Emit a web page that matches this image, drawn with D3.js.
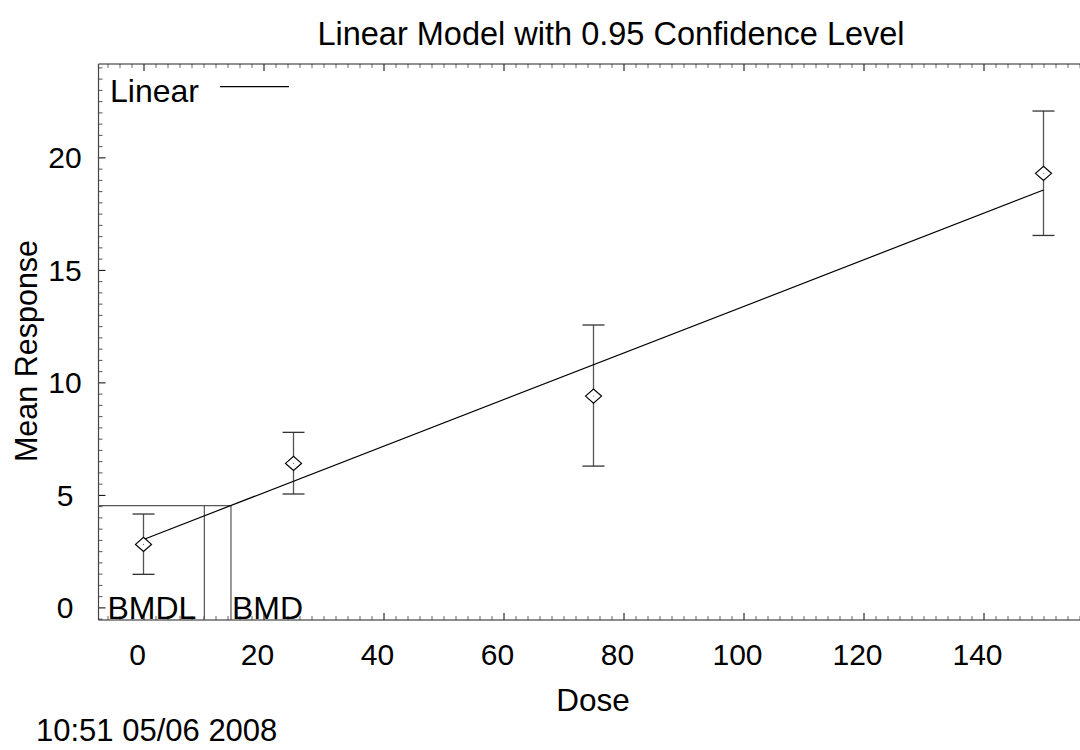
<!DOCTYPE html>
<html><head><meta charset="utf-8">
<script src="https://cdn.jsdelivr.net/npm/d3@7"></script>
<style>
body{margin:0;background:#fff;}
svg{display:block;font-family:"Liberation Sans",Arial,sans-serif;}
</style></head>
<body>
<svg id="chart" width="1080" height="750"></svg>
<script>
// ---- data ----
const doses = [0, 25, 75, 150];
const means = [2.80, 6.40, 9.39, 19.29];
const upper = [4.15, 7.78, 12.55, 22.06];
const lower = [1.47, 5.04, 6.28, 16.53];
const fitDose = [0, 150];
const fitResp = [3.02, 18.55];
const bmd = 14.58;
const bmdl = 10.14;
const bmrLevel = 4.52;
const xTicks = [0, 20, 40, 60, 80, 100, 120, 140];
const yTicks = [0, 5, 10, 15, 20];
const titleText = "Linear Model with 0.95 Confidence Level";
const xLabel = "Dose";
const yLabel = "Mean Response";
const legendLabel = "Linear";
const stamp = "10:51 05/06 2008";

const svg = d3.select("#chart");
const L = 98.5, R = 1088.5, T = 64, B = 620;
const x = d3.scaleLinear().domain([-7.5, 157.5]).range([L, R]);
const y = d3.scaleLinear().domain([-0.56, 24.15]).range([B, T]);

const g = svg.append("g");

// minor ticks
const xMinor = d3.range(-6, 158, 2).filter(v => v % 20 !== 0);
const yMinor = d3.range(-0.5, 24.1, 0.5).filter(v => v % 5 !== 0);

// bottom axis (ticks inward)
g.append("g").attr("transform", `translate(0,${B})`)
  .call(d3.axisBottom(x).tickValues(xTicks).tickSize(-7).tickFormat(""))
  .call(a => a.select(".domain").remove());
g.append("g").attr("transform", `translate(0,${B})`)
  .call(d3.axisBottom(x).tickValues(xMinor).tickSize(-4).tickFormat(""))
  .call(a => a.select(".domain").remove())
  .selectAll("line").attr("stroke", "#666");
// top axis
g.append("g").attr("transform", `translate(0,${T})`)
  .call(d3.axisTop(x).tickValues(xTicks).tickSize(-7).tickFormat(""))
  .call(a => a.select(".domain").remove());
g.append("g").attr("transform", `translate(0,${T})`)
  .call(d3.axisTop(x).tickValues(xMinor).tickSize(-4).tickFormat(""))
  .call(a => a.select(".domain").remove())
  .selectAll("line").attr("stroke", "#666");
// left axis
g.append("g").attr("transform", `translate(${L},0)`)
  .call(d3.axisLeft(y).tickValues(yTicks).tickSize(-7).tickFormat(""))
  .call(a => a.select(".domain").remove());
g.append("g").attr("transform", `translate(${L},0)`)
  .call(d3.axisLeft(y).tickValues(yMinor).tickSize(-4).tickFormat(""))
  .call(a => a.select(".domain").remove())
  .selectAll("line").attr("stroke", "#555");

// frame lines
g.append("line").attr("x1", L).attr("x2", 1080).attr("y1", B).attr("y2", B).attr("stroke", "#222").attr("stroke-width", 1.2);
g.append("line").attr("x1", L).attr("x2", 1080).attr("y1", T).attr("y2", T).attr("stroke", "#222").attr("stroke-width", 1.2);
g.append("line").attr("x1", L).attr("x2", L).attr("y1", T).attr("y2", B).attr("stroke", "#444").attr("stroke-width", 1.2);

// tick labels
svg.append("g").selectAll("text").data(xTicks).join("text")
  .attr("x", d => x(d) - 6).attr("y", 665)
  .attr("text-anchor", "middle").attr("font-size", 30).attr("fill", "#000")
  .text(d => d);
svg.append("g").selectAll("text").data(yTicks).join("text")
  .attr("x", 65).attr("y", d => y(d) + 11)
  .attr("text-anchor", "middle").attr("font-size", 30).attr("fill", "#000")
  .text(d => d);

// BMD lines
const bmdCol = "#555";
g.append("line").attr("x1", L).attr("x2", x(bmd)).attr("y1", y(bmrLevel)).attr("y2", y(bmrLevel)).attr("stroke", bmdCol).attr("stroke-width", 1.2);
g.append("line").attr("x1", x(bmd)).attr("x2", x(bmd)).attr("y1", y(bmrLevel)).attr("y2", B).attr("stroke", bmdCol).attr("stroke-width", 1.2);
g.append("line").attr("x1", x(bmdl)).attr("x2", x(bmdl)).attr("y1", y(bmrLevel)).attr("y2", B).attr("stroke", bmdCol).attr("stroke-width", 1.2);
svg.append("text").attr("x", x(bmdl) - 8).attr("y", 619).attr("text-anchor", "end")
  .attr("font-size", 32).text("BMDL");
svg.append("text").attr("x", x(bmd) + 1).attr("y", 619).attr("text-anchor", "start")
  .attr("font-size", 32).text("BMD");

// error bars
const ebCol = "#555";
const eb = g.append("g").selectAll("g").data(doses).join("g");
eb.append("line").attr("x1", d => x(d)).attr("x2", d => x(d))
  .attr("y1", (d, i) => y(upper[i])).attr("y2", (d, i) => y(lower[i]))
  .attr("stroke", ebCol).attr("stroke-width", 1.3);
eb.append("line").attr("x1", d => x(d) - 11).attr("x2", d => x(d) + 11)
  .attr("y1", (d, i) => y(upper[i])).attr("y2", (d, i) => y(upper[i]))
  .attr("stroke", "#333").attr("stroke-width", 1.3);
eb.append("line").attr("x1", d => x(d) - 11).attr("x2", d => x(d) + 11)
  .attr("y1", (d, i) => y(lower[i])).attr("y2", (d, i) => y(lower[i]))
  .attr("stroke", "#333").attr("stroke-width", 1.3);

// fit line
const line = d3.line().x(d => x(d[0])).y(d => y(d[1]));
g.append("path").datum(fitDose.map((d, i) => [d, fitResp[i]]))
  .attr("d", line).attr("fill", "none").attr("stroke", "#000").attr("stroke-width", 1.2);

// diamonds
g.append("g").selectAll("path").data(doses).join("path")
  .attr("d", (d, i) => {
    const cx = x(d), cy = y(means[i]);
    return `M${cx - 8},${cy} L${cx},${cy - 7} L${cx + 8},${cy} L${cx},${cy + 7} Z`;
  })
  .attr("fill", "#fff").attr("stroke", "#000").attr("stroke-width", 1.2);
g.append("g").selectAll("circle").data(doses).join("circle")
  .attr("cx", d => x(d)).attr("cy", (d, i) => y(means[i])).attr("r", 0.6).attr("fill", "#777");

// legend
svg.append("text").attr("x", 110).attr("y", 101.5).attr("font-size", 32).text(legendLabel);
svg.append("line").attr("x1", 220).attr("x2", 289).attr("y1", 86.7).attr("y2", 86.7)
  .attr("stroke", "#000").attr("stroke-width", 1.2);

// title and labels
svg.append("text").attr("x", 611).attr("y", 45).attr("text-anchor", "middle")
  .attr("font-size", 32.5).text(titleText);
svg.append("text").attr("x", 593).attr("y", 711).attr("text-anchor", "middle")
  .attr("font-size", 31.5).text(xLabel);
svg.append("text").attr("transform", "translate(37,351) rotate(-90)")
  .attr("text-anchor", "middle").attr("font-size", 30.5).text(yLabel);
svg.append("text").attr("x", 36).attr("y", 741).attr("font-size", 31).text(stamp);
</script>
</body></html>
